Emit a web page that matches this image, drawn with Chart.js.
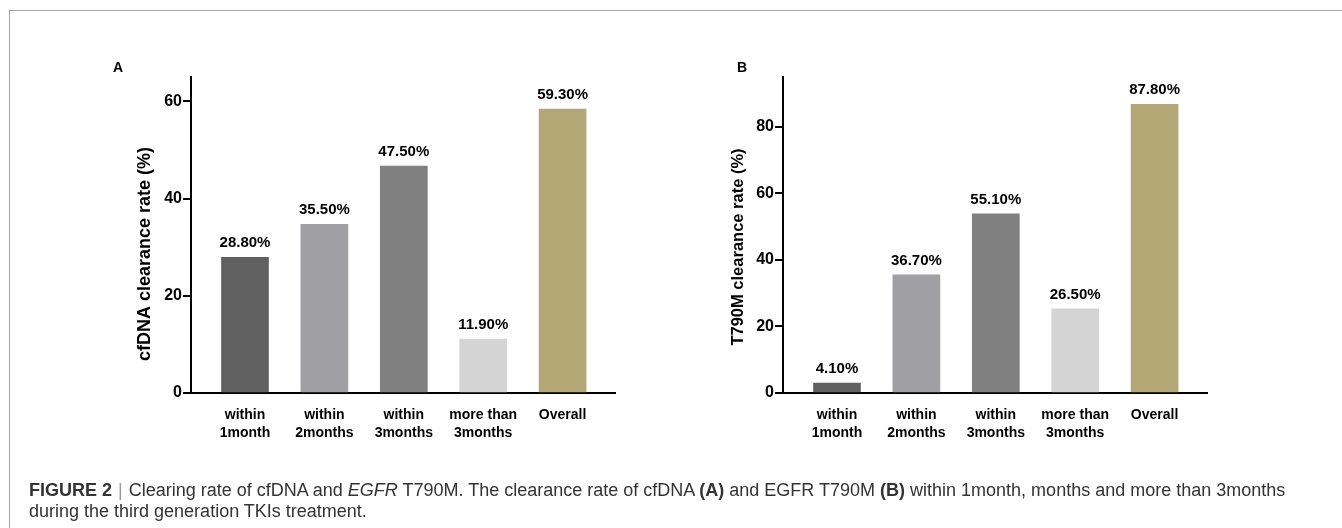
<!DOCTYPE html>
<html>
<head>
<meta charset="utf-8">
<script src="https://cdn.jsdelivr.net/npm/chart.js@4.4.1/dist/chart.umd.min.js"></script>
<style>
  html, body { margin: 0; padding: 0; background: #fff; }
  body { width: 1342px; height: 528px; position: relative; overflow: hidden; font-family: "Liberation Sans", Arial, sans-serif; }
  #frame { position: absolute; left: 9px; top: 10px; width: 1340px; height: 530px; border-left: 1px solid #a3a3a3; border-top: 1px solid #a3a3a3; }
  canvas { position: absolute; top: 0; }
  #cA { left: 0; }
  #cB { left: 671px; }
  .panel { position: absolute; font-weight: bold; font-size: 14px; color: #000; }
  #caption { position: absolute; left: 29px; top: 480px; font-size: 18px; line-height: 21px; color: #333; white-space: nowrap; }
  #caption .sep { color: #999; padding: 0 6px; }
</style>
</head>
<body>
<div id="frame"></div>
<canvas id="cA" width="671" height="528"></canvas>
<canvas id="cB" width="671" height="528"></canvas>
<div class="panel" style="left:113px; top:59px;">A</div>
<div class="panel" style="left:737px; top:59px;">B</div>
<div id="caption"><b>FIGURE 2</b><span class="sep">|</span>Clearing rate of cfDNA and <i>EGFR</i> T790M. The clearance rate of cfDNA <b>(A)</b> and EGFR T790M <b>(B)</b> within 1month, months and more than 3months<br>during the third generation TKIs treatment.</div>
<script>
// ---- data ----
const categories = [["within", "1month"], ["within", "2months"], ["within", "3months"], ["more than", "3months"], ["Overall"]];
const cfdnaValues = [27.9, 34.7, 46.7, 11.1, 58.4];
const cfdnaLabels = ["28.80%", "35.50%", "47.50%", "11.90%", "59.30%"];
const t790mValues = [3.0, 35.5, 53.9, 25.3, 86.8];
const t790mLabels = ["4.10%", "36.70%", "55.10%", "26.50%", "87.80%"];
const cfdnaTicks = [0, 20, 40, 60];
const t790mTicks = [0, 20, 40, 60, 80];
const cfdnaMax = 65;
const t790mMax = 95;
const barColors = ["#5f605f", "#a0a0a4", "#808080", "#d4d4d4", "#b3a875"];

const FONT = "'Liberation Sans', Arial, sans-serif";

const valueLabelPlugin = {
  id: "valueLabels",
  afterDatasetsDraw(chart, args, opts) {
    const ctx = chart.ctx;
    const meta = chart.getDatasetMeta(0);
    ctx.save();
    ctx.font = "bold 15px " + FONT;
    ctx.fillStyle = "#000";
    ctx.textAlign = "center";
    ctx.textBaseline = "alphabetic";
    meta.data.forEach((bar, i) => {
      ctx.fillText(opts.texts[i], bar.x, bar.y - 10);
    });
    ctx.restore();
  }
};

// y-axis title drawn rotated at its place beside the axis
const yTitlePlugin = {
  id: "yTitle",
  afterDraw(chart, args, opts) {
    const ctx = chart.ctx;
    ctx.save();
    ctx.translate(opts.x, opts.y);
    ctx.rotate(-Math.PI / 2);
    ctx.font = "bold " + opts.size + "px " + FONT;
    ctx.fillStyle = "#000";
    ctx.textAlign = "center";
    ctx.textBaseline = "middle";
    ctx.fillText(opts.text, 0, 0);
    ctx.restore();
  }
};

function makeChart(id, values, texts, yMax, yTicks, title, pad) {
  const points = values.map((v, i) => ({ x: i, y: v }));
  return new Chart(document.getElementById(id), {
    type: "bar",
    data: {
      datasets: [{
        data: points,
        backgroundColor: barColors,
        borderWidth: 0,
        barThickness: 47
      }]
    },
    plugins: [valueLabelPlugin, yTitlePlugin],
    options: {
      responsive: false,
      animation: false,
      devicePixelRatio: 1,
      layout: { padding: pad },
      plugins: {
        legend: { display: false },
        tooltip: { enabled: false },
        valueLabels: { texts: texts },
        yTitle: title
      },
      scales: {
        x: {
          type: "linear",
          offset: false,
          min: -0.68,
          max: 4.66,
          afterBuildTicks: (s) => { s.ticks = categories.map((c, i) => ({ value: i })); },
          afterFit: (s) => { s.height = 60; },
          grid: { display: false, offset: false },
          border: { display: true, color: "#000", width: 2 },
          ticks: {
            autoSkip: false,
            maxRotation: 0,
            padding: 5,
            color: "#000",
            font: { family: FONT, size: 14, weight: "bold", lineHeight: 1.28 },
            callback: (v) => categories[v]
          }
        },
        y: {
          min: 0,
          max: yMax,
          afterBuildTicks: (s) => { s.ticks = yTicks.map(v => ({ value: v })); },
          afterFit: (s) => { s.width = pad.yw; },
          grid: { display: true, drawOnChartArea: false, drawTicks: true, tickLength: 8, color: "#000", lineWidth: 2 },
          border: { display: true, color: "#000", width: 2 },
          ticks: {
            padding: 1,
            color: "#000",
            font: { family: FONT, size: 16, weight: "bold" }
          }
        }
      }
    }
  });
}

makeChart("cA", cfdnaValues, cfdnaLabels, cfdnaMax, cfdnaTicks,
  { text: "cfDNA clearance rate (%)", x: 145, y: 254, size: 18 },
  { left: 135, top: 77, right: 56, bottom: 75, yw: 56 });
makeChart("cB", t790mValues, t790mLabels, t790mMax, t790mTicks,
  { text: "T790M clearance rate (%)", x: 67, y: 247, size: 16.5 },
  { left: 57, top: 77, right: 135, bottom: 75, yw: 55 });
</script>
</body>
</html>
